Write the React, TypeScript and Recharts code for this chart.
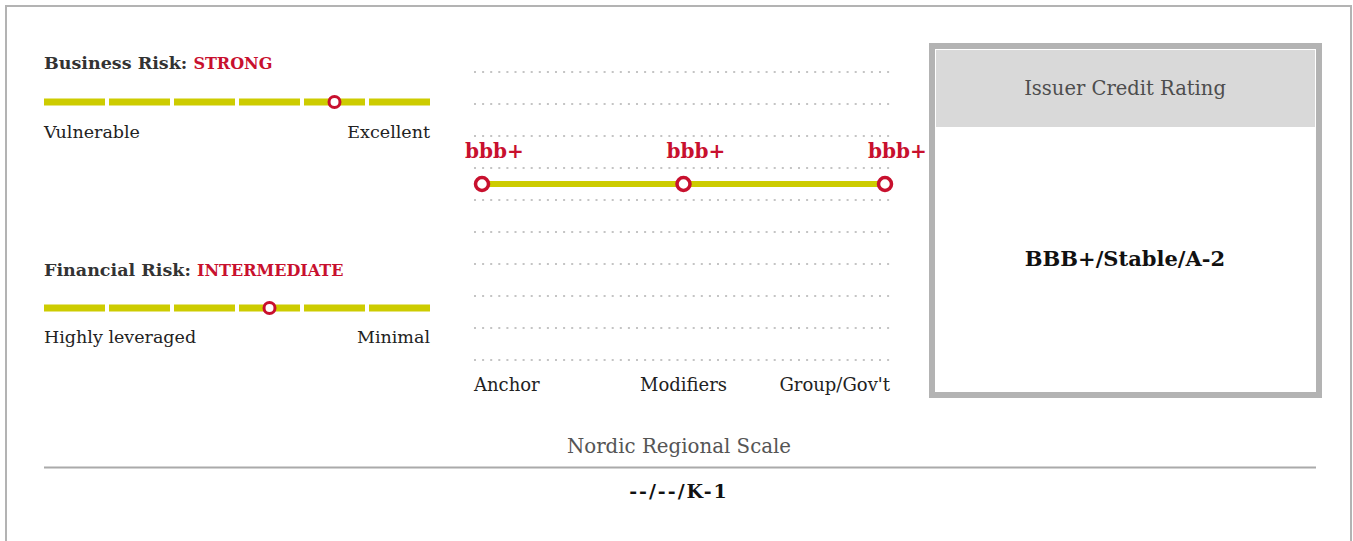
import { ComposedChart, LineChart, Bar, Line, XAxis, YAxis, CartesianGrid, LabelList } from 'recharts'

// business / financial risk scales (left to right)
const businessLevels = ['Vulnerable', 'Weak', 'Fair', 'Satisfactory', 'Strong', 'Excellent']
const businessScore = 'Strong'
const financialLevels = ['Highly leveraged', 'Aggressive', 'Significant', 'Intermediate', 'Modest', 'Minimal']
const financialScore = 'Intermediate'

// rating build-up
const stages = ['Anchor', 'Modifiers', "Group/Gov't"]
const stageRatings = ['bbb+', 'bbb+', 'bbb+']
const ratingLevels = ['bb-', 'bb', 'bb+', 'bbb-', 'bbb', 'bbb+', 'a-', 'a', 'a+'] // bottom to top

const issuerRating = 'BBB+/Stable/A-2'
const regionalScaleName = 'Nordic Regional Scale'
const regionalRating = '--/--/K-1'

const RED = '#c8102e'
const OLIVE = '#cdcc00'
const FONT = "'DejaVu Serif', serif"

const levelTicks = ratingLevels.map((_, i) => i).concat(ratingLevels.length)

const buildupData = stages.map((s, i) => ({
  stage: s,
  rating: stageRatings[i],
  level: ratingLevels.indexOf(stageRatings[i]) + 0.5,
}))

function SegmentShape(props: any) {
  const { x, y, width, height } = props
  return <rect x={x} y={y + height / 2 - 3.5} width={width} height={7} fill={OLIVE} />
}

function RiskScale({ levels, selected, center }: { levels: string[]; selected: string; center: number }) {
  const data = levels.map((l) => ({ name: l, seg: 1, mark: l === selected ? 0.5 : null }))
  return (
    <ComposedChart
      width={390}
      height={20}
      data={data}
      margin={{ top: 0, right: 0, bottom: 0, left: 0 }}
      barCategoryGap={2}
      style={{ position: 'absolute', left: 42, top: center - 10 }}
    >
      <XAxis dataKey='name' hide />
      <YAxis hide domain={[0, 1]} />
      <Bar dataKey='seg' shape={<SegmentShape />} isAnimationActive={false} />
      <Line
        dataKey='mark'
        stroke='none'
        dot={{ r: 5.5, fill: '#fff', stroke: RED, strokeWidth: 3 }}
        activeDot={false}
        isAnimationActive={false}
      />
    </ComposedChart>
  )
}

function StageTick(props: any) {
  const { x, y, payload, index } = props
  const last = stages.length - 1
  const anchor = index === 0 ? 'start' : index === last ? 'end' : 'middle'
  const tx = index === 0 ? x - 8 : index === last ? x + 5 : x
  return (
    <text x={tx} y={y + 31} textAnchor={anchor} fontFamily={FONT} fontSize={18} fill='#222'>
      {payload.value}
    </text>
  )
}

function RatingLabel(props: any) {
  const { x, y, value } = props
  return (
    <text x={x - 17} y={y - 26} fontFamily={FONT} fontSize={20} fontWeight='bold' fill={RED}>
      {value}
    </text>
  )
}

export default function App() {
  return (
    <div style={{ position: 'fixed', left: 0, top: 0, width: 1353, height: 541, background: '#fff', overflow: 'hidden' }}>
      <svg width={1353} height={541} style={{ position: 'absolute', left: 0, top: 0 }} fontFamily={FONT}>
        <rect x={6} y={6} width={1345} height={600} fill='#fff' stroke='#b3b3b3' strokeWidth={2} />

        <text x={44} y={69} fontSize={17.5} fontWeight='bold' fill='#333'>
          Business Risk: <tspan fill={RED} fontSize={16}>{businessScore.toUpperCase()}</tspan>
        </text>
        <text x={44} y={138} fontSize={17.5} fill='#222'>{businessLevels[0]}</text>
        <text x={430} y={138} fontSize={17.5} fill='#222' textAnchor='end'>{businessLevels[businessLevels.length - 1]}</text>

        <text x={44} y={276} fontSize={17.5} fontWeight='bold' fill='#333'>
          Financial Risk: <tspan fill={RED} fontSize={16}>{financialScore.toUpperCase()}</tspan>
        </text>
        <text x={44} y={343} fontSize={17.5} fill='#222'>{financialLevels[0]}</text>
        <text x={430} y={343} fontSize={17.5} fill='#222' textAnchor='end'>{financialLevels[financialLevels.length - 1]}</text>

        <rect x={932} y={46} width={387} height={349} fill='#fff' stroke='#b3b3b3' strokeWidth={6} />
        <rect x={936} y={50} width={379} height={77} fill='#d9d9d9' />
        <text x={1125} y={95} fontSize={19.5} fill='#4d4d4d' textAnchor='middle'>Issuer Credit Rating</text>
        <text x={1125} y={266} fontSize={21} fontWeight='bold' fill='#111' textAnchor='middle'>{issuerRating}</text>

        <text x={679} y={453} fontSize={19.8} fill='#555' textAnchor='middle'>{regionalScaleName}</text>
        <line x1={44} x2={1316} y1={467.5} y2={467.5} stroke='#aaa' strokeWidth={2} />
        <text x={679} y={498} fontSize={19} fontWeight='bold' fill='#111' textAnchor='middle' letterSpacing={2}>{regionalRating}</text>
      </svg>

      <RiskScale levels={businessLevels} selected={businessScore} center={102} />
      <RiskScale levels={financialLevels} selected={financialScore} center={308} />

      <LineChart
        width={476}
        height={340}
        data={buildupData}
        margin={{ top: 10, right: 50, bottom: 0, left: 10 }}
        style={{ position: 'absolute', left: 464, top: 62 }}
      >
        <CartesianGrid vertical={false} stroke='#c4c4c4' strokeWidth={2} strokeDasharray='2 6.1' />
        <XAxis
          dataKey='stage'
          axisLine={false}
          tickLine={false}
          tickSize={0}
          tickMargin={0}
          height={42}
          padding={{ left: 8, right: 5 }}
          tick={<StageTick />}
          interval={0}
        />
        <YAxis hide type='number' domain={[0, ratingLevels.length]} ticks={levelTicks} interval={0} />
        <Line
          dataKey='level'
          stroke={OLIVE}
          strokeWidth={6}
          dot={{ r: 6.5, fill: '#fff', stroke: RED, strokeWidth: 3.5 }}
          activeDot={false}
          isAnimationActive={false}
        >
          <LabelList dataKey='rating' content={<RatingLabel />} />
        </Line>
      </LineChart>
    </div>
  )
}
